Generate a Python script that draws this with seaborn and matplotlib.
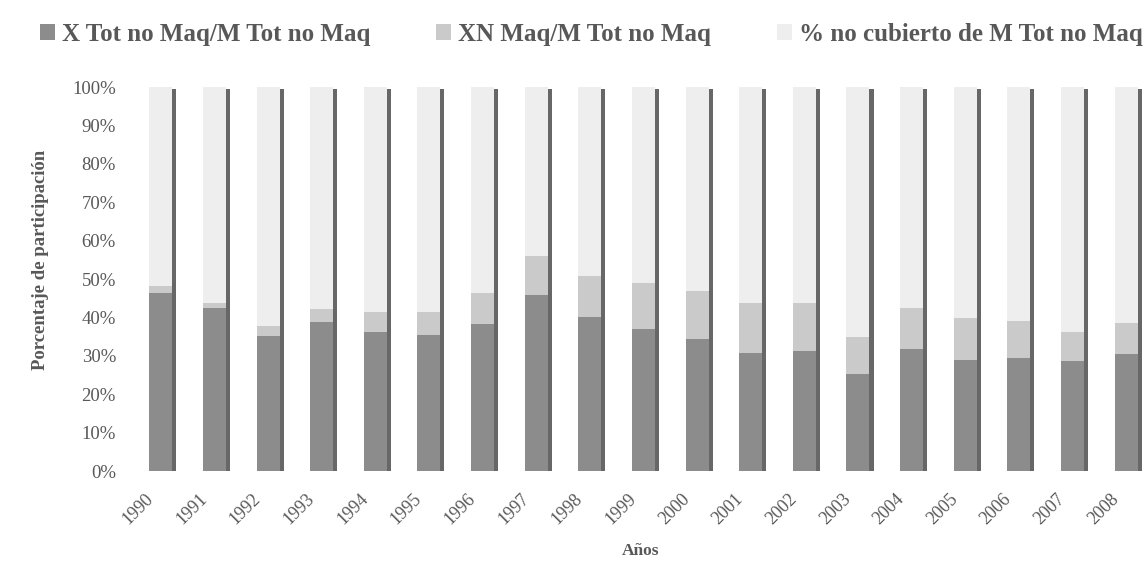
import matplotlib
matplotlib.use("Agg")
import matplotlib.pyplot as plt
from matplotlib.patches import Rectangle, Patch
from matplotlib.transforms import ScaledTranslation
import seaborn as sns
import pandas as pd
import numpy as np

years = ["1990", "1991", "1992", "1993", "1994", "1995", "1996", "1997", "1998", "1999",
         "2000", "2001", "2002", "2003", "2004", "2005", "2006", "2007", "2008"]
x_tot = [46.4, 42.4, 35.2, 38.7, 36.2, 35.4, 38.3, 45.9, 40.0, 37.1,
         34.5, 30.8, 31.3, 25.3, 31.7, 28.9, 29.3, 28.7, 30.5]
xn_maq = [1.8, 1.4, 2.6, 3.4, 5.1, 5.9, 8.1, 10.1, 10.8, 11.9,
          12.5, 12.9, 12.4, 9.7, 10.7, 11.0, 9.8, 7.5, 8.0]
no_cubierto = [51.8, 56.2, 62.2, 57.9, 58.7, 58.7, 53.6, 44.0, 49.2, 51.0,
               53.0, 56.3, 56.3, 65.0, 57.6, 60.1, 60.9, 63.8, 61.5]
series_names = ["X Tot no Maq/M Tot no Maq", "XN Maq/M Tot no Maq", "% no cubierto de M Tot no Maq"]

c_dark = "#8c8c8c"
c_mid = "#cacaca"
c_light = "#eeeeee"
c_strip = "#676767"
txt = "#585858"

sns.set_theme(style="white")
plt.rcParams["font.family"] = ["Liberation Serif", "DejaVu Serif"]

df = pd.DataFrame({"year": years, "x": x_tot, "xn": xn_maq, "nc": no_cubierto})
df["top1"] = df["x"]
df["top2"] = df["x"] + df["xn"]
df["top3"] = df["top2"] + df["nc"]

fig = plt.figure(figsize=(11.47, 5.68), dpi=100)
ax = fig.add_axes([134 / 1147, 97 / 568, (1147 - 134) / 1147, 384 / 568])

bw = 0.43
sns.barplot(data=df, x="year", y="top3", order=years, color=c_light, width=bw,
            saturation=1, ax=ax, linewidth=0)
sns.barplot(data=df, x="year", y="top2", order=years, color=c_mid, width=bw,
            saturation=1, ax=ax, linewidth=0)
n_before = len(ax.patches)
sns.barplot(data=df, x="year", y="top1", order=years, color=c_dark, width=bw,
            saturation=1, ax=ax, linewidth=0)

# dark side strip to the right of each bar (3D-like edge)
for p, tot in zip(ax.patches[n_before:], df["top3"]):
    ax.add_patch(Rectangle((p.get_x() + p.get_width(), 0), 0.075, tot * 0.995,
                           facecolor=c_strip, edgecolor="none", zorder=3))

ax.set_xlim(-0.5, 18.39)
ax.set_ylim(0, 100)
ax.set_yticks(np.arange(0, 101, 10))
ax.set_yticklabels([f"{v}%" for v in range(0, 101, 10)], fontsize=13.5, color=txt)
ax.set_xticks(range(len(years)))
ax.set_xticklabels(years, rotation=45, ha="right", rotation_mode="anchor",
                   fontsize=13, color=txt)
ax.tick_params(axis="x", pad=14, length=0)
ax.tick_params(axis="y", pad=13, length=0)
shift = ScaledTranslation(-0.16, 0, fig.dpi_scale_trans)
for lab in ax.get_xticklabels():
    lab.set_transform(lab.get_transform() + shift)
for s in ax.spines.values():
    s.set_visible(False)

ax.set_ylabel("Porcentaje de participación", fontsize=13.5, fontweight="bold", color=txt)
ax.yaxis.set_label_coords(-0.084, 0.55)
ax.set_xlabel("Años", fontsize=12.5, fontweight="bold", color=txt, labelpad=11)

handles = [Patch(facecolor=c, edgecolor="none") for c in (c_dark, c_mid, c_light)]
fig.legend(handles, series_names, loc="upper left", bbox_to_anchor=(17 / 1147, 1.0),
           ncol=3, frameon=False, handlelength=0.6, handleheight=0.6, handletextpad=0.3,
           columnspacing=2.62, prop={"family": "Liberation Serif", "weight": "bold", "size": 18},
           labelcolor=txt)

fig.savefig("out.png", dpi=100, facecolor="white")
